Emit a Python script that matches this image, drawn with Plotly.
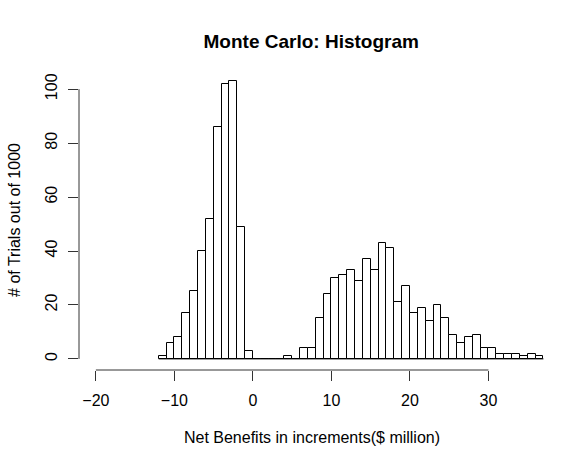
import plotly.graph_objects as go

# Histogramme Monte Carlo : bornes gauches des classes (largeur 1) et effectifs
bin_left = list(range(-12, 37))
counts = [1, 6, 8, 17, 25, 40, 52, 86, 102, 103, 49, 3,   # -12 .. -1
          0, 0, 0, 0, 1, 0, 4, 4, 15, 24, 30, 31, 33, 29,  # 0 .. 13
          37, 33, 43, 41, 21, 27, 17, 19, 14, 20, 15, 9,   # 14 .. 25
          6, 8, 9, 4, 4, 2, 2, 2, 1, 2, 1]                 # 26 .. 36
bin_width = 1

x_ticks = [-20, -10, 0, 10, 20, 30]
y_ticks = [0, 20, 40, 60, 80, 100]

font = "Liberation Sans, Arial, sans-serif"

fig = go.Figure(go.Bar(
    x=[b + bin_width / 2 for b in bin_left],
    y=counts,
    width=bin_width,
    marker=dict(color="white", line=dict(color="black", width=1)),
    hoverinfo="x+y",
))

# ligne de base sous les classes vides (comme rect() dans R)
fig.add_shape(type="line", xref="x", yref="y",
              x0=bin_left[0], x1=bin_left[-1] + bin_width, y0=0, y1=0,
              line=dict(color="black", width=1))
# axes façon R : lignes limitées aux graduations
fig.add_shape(type="line", xref="x", yref="paper",
              x0=x_ticks[0], x1=x_ticks[-1], y0=0, y1=0,
              line=dict(color="#333333", width=1))
fig.add_shape(type="line", xref="paper", yref="y",
              x0=0, x1=0, y0=y_ticks[0], y1=y_ticks[-1],
              line=dict(color="#333333", width=1))

fig.update_layout(
    width=585, height=468,
    margin=dict(l=79, r=40, t=70, b=98),
    plot_bgcolor="white", paper_bgcolor="white",
    font=dict(family=font, size=16, color="black"),
    showlegend=False,
    bargap=0,
    title=dict(text="<b>Monte Carlo: Histogram</b>", font=dict(size=19),
               x=0.532, xanchor="center", y=0.912, yanchor="middle"),
    xaxis=dict(range=[-22.15, 37.2], tickvals=x_ticks, ticks="outside",
               ticklen=10, tickcolor="#333333", showgrid=False, zeroline=False,
               showline=False, ticklabelstandoff=6, automargin=False,
               title=dict(text="Net Benefits in increments($ million)",
                          font=dict(size=16), standoff=23)),
    yaxis=dict(range=[-4.12, 107.12], tickvals=y_ticks, ticks="outside",
               ticklen=10, tickcolor="#333333", showgrid=False, zeroline=False,
               showline=False, tickangle=-90, automargin=False,
               ticklabelstandoff=5,
               title=dict(text="# of Trials out of 1000",
                          font=dict(size=16), standoff=17)),
)

# pas de marge du navigateur autour du graphique, pas de barre d'outils
fig.write_html("out.html", config={"displayModeBar": False},
               post_script="document.body.style.margin='0';")
